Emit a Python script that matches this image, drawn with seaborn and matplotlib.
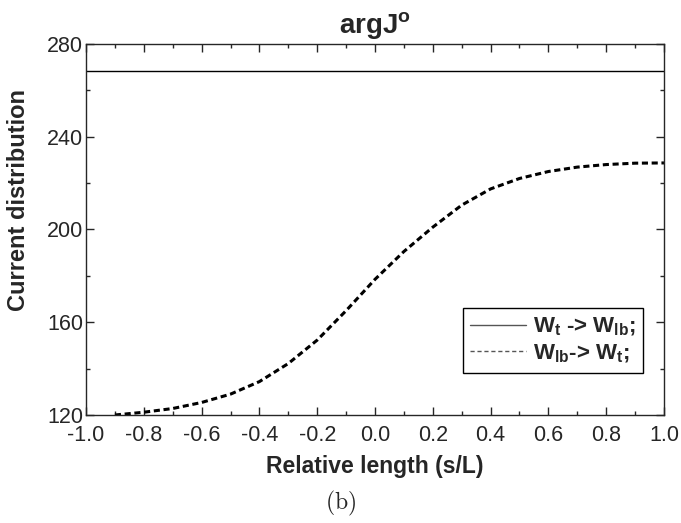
import numpy as np
import pandas as pd
import seaborn as sns
import matplotlib.pyplot as plt

# === data ===
s_L = [-0.9, -0.8, -0.7, -0.6, -0.5, -0.4, -0.3, -0.2, -0.1, 0.0,
       0.1, 0.2, 0.3, 0.4, 0.5, 0.6, 0.7, 0.8, 0.9, 1.0]
arg_lb_t = [120.0, 121.2, 122.8, 125.4, 129.0, 134.4, 142.2, 152.3, 165.0, 178.5,
            190.5, 201.0, 210.5, 217.5, 222.0, 225.0, 226.9, 228.0, 228.6, 228.7]
s_flat = [-1.0, 1.0]
arg_t_lb = [268.5, 268.5]

x_ticks = [-1.0, -0.8, -0.6, -0.4, -0.2, 0.0, 0.2, 0.4, 0.6, 0.8, 1.0]
x_ticklabels = ['-1.0', '-0.8', '-0.6', '-0.4', '-0.2', '0.0', '0.2', '0.4', '0.6', '0.8', '1.0']
y_ticks = [120, 160, 200, 240, 280]

sns.set_style('ticks')
plt.rcParams['font.family'] = ['Liberation Sans', 'DejaVu Sans']
plt.rcParams['mathtext.fontset'] = 'custom'
plt.rcParams['mathtext.bf'] = 'Liberation Sans:bold'
plt.rcParams['mathtext.rm'] = 'Liberation Sans:bold'
plt.rcParams['mathtext.it'] = 'Liberation Sans:bold'

fig = plt.figure(figsize=(6.81, 5.23), dpi=100)
ax = fig.add_axes([0.1263, 0.2065, 0.8487, 0.7094])

sns.lineplot(x=s_flat, y=arg_t_lb, ax=ax, color='black', linewidth=1.0,
             label=r'W$_\mathregular{t}$ -> W$_\mathregular{lb}$;')
sns.lineplot(x=s_L, y=arg_lb_t, ax=ax, color='black', linewidth=2.2,
             linestyle=(0, (2.0, 1.2)), label=r'W$_\mathregular{lb}$-> W$_\mathregular{t}$;')

ax.set_xlim(-1.0, 1.0)
ax.set_ylim(120, 280)
ax.set_xticks(x_ticks)
ax.set_xticklabels(x_ticklabels)
ax.set_xticks(np.arange(-0.9, 1.0, 0.2), minor=True)
ax.set_yticks(y_ticks)
ax.set_yticks([140, 180, 220, 260], minor=True)
ax.tick_params(which='both', direction='in', top=True, right=True,
               labelsize=15.5, width=1, pad=2)
ax.tick_params(axis='x', which='major', pad=7.5)
ax.tick_params(which='major', length=6)
ax.tick_params(which='minor', length=3)
for sp in ax.spines.values():
    sp.set_linewidth(1.0)

ax.set_xlabel('Relative length (s/L)', fontsize=16.5, fontweight='bold', labelpad=6)
ax.set_ylabel('Current distribution', fontsize=17, fontweight='bold')
ax.yaxis.set_label_coords(-0.097, 0.58)
ax.set_title(r'argJ$^\mathregular{o}$', fontsize=20, fontweight='bold', pad=8)

leg = ax.legend(loc='upper right', bbox_to_anchor=(0.964, 0.288), borderaxespad=0,
                fancybox=False, framealpha=1, edgecolor='black', fontsize=16,
                handlelength=2.5, borderpad=0.35, labelspacing=0.2, handletextpad=0.3)
leg.get_frame().set_linewidth(1.0)
for t in leg.get_texts():
    t.set_fontweight('bold')
for l in leg.get_lines():
    l.set_linewidth(1.0)
    l.set_color('#555555')
leg.get_lines()[1].set_linestyle((0, (3, 2)))

fig.text(0.5, 0.025, r'$\mathrm{(b)}$', ha='center', fontsize=17, math_fontfamily='cm')

plt.savefig('out.png', dpi=100)
